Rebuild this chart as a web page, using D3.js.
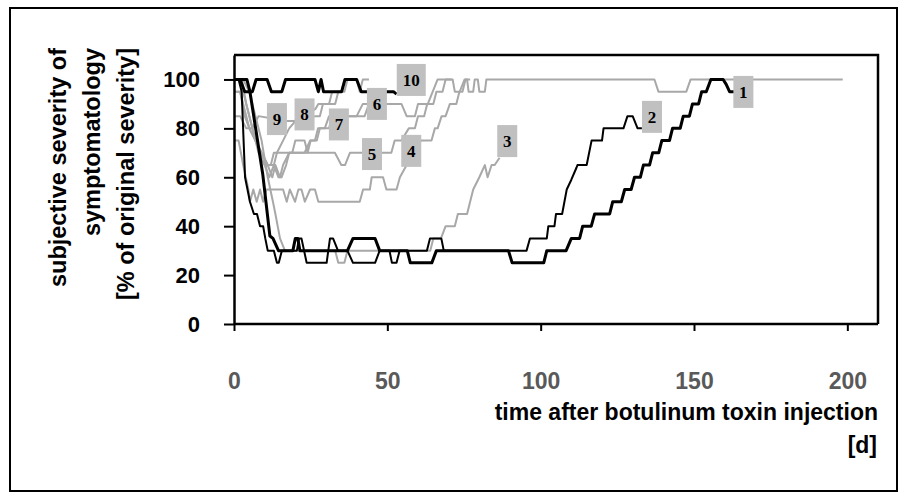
<!DOCTYPE html>
<html>
<head>
<meta charset="utf-8">
<script src="https://cdn.jsdelivr.net/npm/d3@7"></script>
<style>
  body { margin: 0; background: #fff; }
  text { font-family: Arial, "Liberation Sans", sans-serif; font-weight: bold; }
</style>
</head>
<body>
<svg id="chart" width="908" height="501"></svg>
<script>
// day / % of original severity, one array per patient
var pat1 = [[0,100],[4.2,100],[5.2,95],[9.4,61],[11.7,36],[12.7,35],[14.5,30],[19.2,30],[20,35],[20.8,35],[21.5,30],[37,30],[38.8,35],[46,35],[47.5,30],[56.5,30],[57.5,25],[64.5,25],[66,30],[89.5,30],[90.7,25],[101,25],[102,30],[108.3,30],[110,35],[112.7,35],[113.7,40],[116.5,40],[117.6,45],[122.5,45],[123.5,50],[126.3,50],[127.4,55],[129.5,55],[130.6,60],[132.5,60],[133.5,65],[135.5,65],[136.5,70],[138.5,70],[139.5,75],[142,75],[143,80],[145.5,80],[146.5,85],[148.5,85],[149.5,90],[151.5,90],[152.5,95],[154,95],[155.5,100],[159.5,100],[160.5,98],[161.6,95],[163.2,95]];
var pat2 = [[0,100],[1.5,100],[2.5,95],[3.6,60],[5.2,50],[6.5,45],[7.5,45],[8.5,40],[9.5,40],[10.2,35],[11,30],[13,30],[14,25],[14.6,25],[15.6,30],[20.5,30],[21.2,35],[22,35],[23.7,25],[30.2,25],[31.3,35],[32.3,35],[33.9,30],[37,30],[38.8,25],[46,25],[47.5,30],[50.7,30],[51.5,25],[53,25],[54,30],[62.9,30],[63.9,35],[67.6,35],[68.4,30],[95.4,30],[96.5,35],[102,35],[102.5,40],[104.5,40],[105,45],[107,45],[108.5,55],[110,59],[111.7,64],[112,65],[115,65],[116.6,75],[120,75],[120.5,80],[127,80],[128.3,85],[130,85],[131.6,80],[133,80]];
var pat3 = [[0,100],[3,100],[5,95],[7,85],[9,75],[11,60],[12.7,50],[13.5,45],[15,35],[16.6,30],[33,30],[34,25],[36,25],[37,30],[64,30],[65,35],[67.5,35],[69,40],[72,40],[73,45],[76,45],[77,50],[78,55],[80,60],[81.8,65],[82.7,60],[84,65],[85,65],[86.6,68]];
var pat4 = [[0,75],[1.5,75],[3,65],[4.7,55],[5.2,50],[6.3,55],[7.4,50],[8.5,55],[9.5,50],[10.6,55],[16,55],[17.2,50],[18.2,55],[19.9,50],[21,55],[22,55],[23.1,50],[24.8,55],[26.4,55],[27.5,50],[41,50],[42.1,55],[44.3,55],[44.9,60],[48.6,60],[49.7,55],[53,55],[54.1,60],[56.3,65],[58,70],[61,75],[64.4,75],[65.5,80],[66.4,80],[67.7,85],[69,85],[70.4,90],[72.5,90],[73.5,95],[74.5,95],[75.5,100],[76,100],[76.5,95],[78,95],[78.5,100],[79.5,100],[80,95],[81.8,95],[82.3,100],[137.1,100],[138.4,95],[147.5,95],[148.9,100],[198.5,100]];
var pat5 = [[0,95],[2,95],[3.5,85],[5,80],[7,75],[9,70],[11,65],[13,65],[14.5,60],[15.5,60],[17,65],[18,70],[32.9,70],[35,65],[36.2,65],[37.8,70],[51.3,70],[52.4,75],[54.6,75],[57,80],[59,80],[60,85],[62,85],[63,90],[65,90],[66,95],[68,95],[69,100],[71,100]];
var pat6 = [[0,100],[2.5,100],[4,90],[6,80],[8,70],[10,65],[12,65],[13,70],[19,70],[20,75],[23,75],[24,70],[25,75],[27,75],[28,80],[31,80],[32,85],[40,85],[42,90],[54.6,90],[56.3,85],[59,85],[60,90],[63.2,90],[64.8,95],[66.4,100],[71.3,100],[72,95],[73.6,95],[75.2,100],[77,100]];
var pat7 = [[0,95],[2,95],[3,90],[5,80],[7,75],[9,70],[11,65],[12.5,60],[13.5,65],[15,60],[16,65],[18,70],[23,70],[24.8,75],[26.4,75],[27.4,80],[29.6,80],[31,85],[42.6,85],[44,90],[46,90]];
var pat8 = [[0,100],[2,100],[3,95],[5,85],[7,75],[8.5,70],[10,65],[11.5,60],[13,65],[14,70],[16,75],[18,80],[20,83],[26.6,88],[27.5,90],[31,90],[32,95],[35,95],[36,100],[40,100]];
var pat9 = [[0,85],[2,85],[4,80],[6,80],[8,85],[17.2,83],[19.5,83],[26.6,85],[28,85],[29,90],[33,90],[34,95],[36,95],[37,100],[40,100],[41,95],[42,100],[44,100]];
var pat10 = [[0,100],[2,100],[3.5,95],[6,95],[7.2,100],[10.8,100],[12.2,95],[15.6,95],[16.8,100],[26.4,100],[27.5,95],[28.4,100],[29.2,95],[35.1,95],[36.2,100],[40,100],[41.5,95],[52,95],[53,94]];

// number boxes: name, day, value of the box centre
var labelNames = ["1","2","3","4","5","6","7","8","9","10"];
var labelDays = [166.1, 136.3, 89.1, 57.8, 45, 46.6, 34.2, 23, 14, 57.8];
var labelValues = [94.9, 84.7, 74.8, 70.8, 69.5, 90, 81.6, 85.7, 83.8, 99.8];

var yTicks = [0, 20, 40, 60, 80, 100];
var xTicks = [0, 50, 100, 150, 200];

var svg = d3.select("#chart");

var x = d3.scaleLinear().domain([0, 210]).range([234, 878]);
var y = d3.scaleLinear().domain([0, 110]).range([324, 55]);

// outer frame
svg.append("rect")
  .attr("x", 10).attr("y", 8)
  .attr("width", 887).attr("height", 483)
  .attr("fill", "none").attr("stroke", "#000").attr("stroke-width", 2);

// plot frame top and right
svg.append("path")
  .attr("d", "M234,55H878V324")
  .attr("fill", "none").attr("stroke", "#000").attr("stroke-width", 2.5);

var line = d3.line().x(d => x(d[0])).y(d => y(d[1]));

var series = [
  {data: pat3, color: "#a8a8a8", w: 2},
  {data: pat4, color: "#a8a8a8", w: 2},
  {data: pat5, color: "#a8a8a8", w: 2},
  {data: pat6, color: "#a8a8a8", w: 2},
  {data: pat7, color: "#a8a8a8", w: 2},
  {data: pat8, color: "#a8a8a8", w: 2},
  {data: pat9, color: "#a8a8a8", w: 2},
  {data: pat2, color: "#000", w: 2},
  {data: pat1, color: "#000", w: 3},
  {data: pat10, color: "#000", w: 3}
];

svg.append("g").selectAll("path")
  .data(series)
  .join("path")
  .attr("d", d => line(d.data))
  .attr("fill", "none")
  .attr("stroke", d => d.color)
  .attr("stroke-width", d => d.w)
  .attr("stroke-linejoin", "round");

// axes
var yAxis = svg.append("g")
  .attr("transform", "translate(234,0)")
  .call(d3.axisLeft(y).tickValues(yTicks).tickSize(10).tickSizeOuter(0).tickPadding(24));
yAxis.select(".domain").attr("stroke-width", 2.5);
yAxis.selectAll(".tick line").attr("stroke-width", 2);
yAxis.selectAll("text").attr("font-size", 22).attr("fill", "#000");

var xAxis = svg.append("g")
  .attr("transform", "translate(0,324)")
  .call(d3.axisBottom(x).tickValues(xTicks).tickSize(7).tickSizeOuter(0).tickPadding(42));
xAxis.select(".domain").attr("stroke-width", 2.5).attr("d", "M234,0H878");
xAxis.selectAll(".tick line").attr("stroke-width", 2);
xAxis.selectAll("text").attr("font-size", 23).attr("fill", "#595959");

// number boxes
var labels = labelNames.map((n, i) => ({name: n, day: labelDays[i], value: labelValues[i]}));
var lg = svg.append("g").selectAll("g")
  .data(labels)
  .join("g")
  .attr("transform", d => "translate(" + x(d.day) + "," + y(d.value) + ")");
lg.append("rect")
  .attr("x", d => d.name.length > 1 ? -14.5 : -10)
  .attr("y", -16)
  .attr("width", d => d.name.length > 1 ? 29 : 20)
  .attr("height", 32)
  .attr("fill", "#c0c0c0");
lg.append("text")
  .attr("text-anchor", "middle")
  .attr("dy", "0.35em")
  .attr("font-size", 17)
  .style("font-family", "'Times New Roman', 'Liberation Serif', serif")
  .attr("fill", "#000")
  .text(d => d.name);

// axis titles
svg.append("text")
  .attr("x", 878).attr("y", 420)
  .attr("text-anchor", "end").attr("font-size", 23)
  .text("time after botulinum toxin injection");
svg.append("text")
  .attr("x", 877).attr("y", 453)
  .attr("text-anchor", "end").attr("font-size", 23)
  .text("[d]");

var yTitle = ["subjective severity of", "symptomatology", "[% of original severity]"];
svg.append("g").selectAll("text")
  .data(yTitle)
  .join("text")
  .attr("transform", (d, i) => "translate(" + (66 + i * 34) + ",48) rotate(-90)")
  .attr("text-anchor", "end")
  .attr("font-size", 23.5)
  .text(d => d);
</script>
</body>
</html>
